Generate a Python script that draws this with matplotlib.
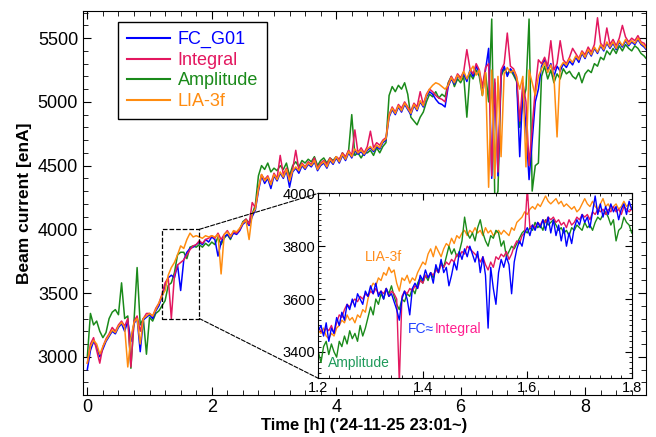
import numpy as np
import matplotlib.pyplot as plt
from matplotlib.patches import Rectangle, ConnectionPatch
from matplotlib.ticker import MultipleLocator

plt.rcParams['font.family'] = ['Liberation Sans', 'DejaVu Sans']

# main panel, one value every 0.05 h
time_h = np.round(np.arange(181) * 0.05, 2)

fc_g01 = [
    2900, 3050, 3120, 3080, 3000, 3060, 3120, 3160, 3200, 3180,
    3230, 3260, 3200, 3280, 3120, 3260, 3300, 3040, 3290, 3310,
    3330, 3300, 3360, 3400, 3470, 3560, 3620, 3640, 3620, 3720,
    3520, 3760, 3820, 3850, 3860, 3880, 3900, 3880, 3920, 3900,
    3940, 3920, 3790, 3900, 3940, 3960, 3930, 3970, 3960, 3990,
    4040, 4060, 4030, 4100, 4150, 4300, 4420, 4360, 4400, 4320,
    4420, 4380, 4440, 4400, 4460, 4330, 4450, 4480, 4440, 4500,
    4470, 4510, 4490, 4530, 4460, 4500, 4520, 4480, 4540, 4510,
    4560, 4520, 4580, 4540, 4600, 4560, 4620, 4590, 4610, 4580,
    4620, 4640, 4610, 4650, 4630, 4680, 4700, 4880, 4940, 4900,
    4960, 4920, 4980, 4940, 4900, 4970, 4930, 5000, 4960, 5040,
    5080, 5060, 5020, 4990, 4980, 4960, 5120, 5180, 5140, 5200,
    5180, 5220, 5160, 5250, 5200, 5280, 5230, 5100, 5250, 5420,
    4400, 5150, 4420, 5220, 5280, 5200, 5260, 5230, 5180, 4570,
    5100, 4800, 4390, 4700, 5000, 5100, 5280, 5330, 5250, 5300,
    5200, 5280, 5240, 5300, 5270, 5320, 5290, 5350, 5310, 5380,
    5340, 5400, 5360, 5420, 5380, 5440, 5400, 5460, 5420, 5460,
    5410, 5470, 5430, 5480, 5440, 5470, 5450, 5490, 5450, 5430,
    5400]

integral = [
    2950, 3100, 3150, 3050, 2950, 3080, 3140, 3180, 3230, 3200,
    3250, 3280, 3240, 3300, 2920, 3280, 3320, 3200, 3300, 3340,
    3340, 3320, 3380, 3420, 3490, 3580, 3620, 3300, 3640, 3720,
    3740, 3760, 3800, 3840, 3870, 3880, 3910, 3890, 3920, 3930,
    3950, 3930, 3970, 3920, 3960, 3990, 3950, 3980, 3970, 4000,
    4050, 4080, 4040, 4210, 4170, 4320, 4430, 4390, 4420, 4360,
    4440, 4400, 4580, 4430, 4480, 4400, 4470, 4620, 4470, 4520,
    4490, 4530, 4510, 4560, 4480, 4520, 4540, 4510, 4560, 4530,
    4570, 4550, 4600, 4570, 4620, 4580, 4780, 4600, 4640, 4600,
    4650, 4770, 4640, 4680, 4660, 4700, 4720, 4900, 4960, 4920,
    4980, 4950, 5000, 4960, 4930, 4990, 4960, 5080, 4980, 5060,
    5100, 5080, 5050, 5030, 5020, 5000, 5140, 5200, 5160, 5220,
    5190, 5240, 5410, 5260, 5220, 5300, 5250, 5120, 5270, 5300,
    4420, 5180, 4450, 5250, 5300, 5540, 5280, 5260, 5200, 4850,
    5150, 5000, 4500, 4800, 5100, 5330, 5300, 5350, 5280, 5480,
    5250, 5300, 5480, 5330, 5300, 5350, 5420, 5380, 5340, 5400,
    5370, 5430, 5390, 5450, 5660, 5460, 5430, 5580, 5450, 5490,
    5440, 5500, 5600, 5510, 5470, 5500, 5480, 5520, 5470, 5460,
    5420]

amplitude = [
    3000, 3340, 3250, 3280, 3200, 3150, 3190, 3300, 3350, 3370,
    3330, 3580, 3300, 3320, 2910, 3280, 3700, 3250, 3300, 3020,
    3310, 3280, 3340, 3360, 3400, 3440, 3560, 3580, 3660, 3800,
    3820, 3820, 3770, 3860, 3870, 3860, 3880, 3860, 3890, 3870,
    3900, 3880, 3940, 3880, 3930, 3960, 3920, 3980, 3970, 4000,
    4060, 4080, 4050, 4120, 4190, 4420, 4500, 4470, 4520, 4450,
    4480, 4460, 4500, 4470, 4520, 4420, 4500, 4530, 4490, 4540,
    4520, 4550, 4530, 4570, 4500, 4540, 4560, 4520, 4560, 4540,
    4570, 4540, 4600, 4560, 4620, 4900, 4580, 4600, 4560, 4600,
    4600, 4620, 4580, 4640, 4600, 4650, 4680, 5050, 5120, 5080,
    5130, 5100, 5150, 5060, 4880, 4850, 4820, 4880, 4920, 5000,
    5060, 5040, 5080, 5030, 5060, 5040, 5150, 5200, 5120, 5180,
    5150, 5200, 4880, 5220, 5180, 5250, 5200, 5050, 5230, 5000,
    5650, 4220, 4300, 5200, 5260, 5220, 5250, 5210, 5160, 4800,
    5000, 5100, 5650, 4300, 4500, 4520, 5200, 5280, 5180, 5250,
    5150, 5220, 5180, 5260, 5220, 5240, 5200, 5180, 5230, 5150,
    5220, 5250, 5230, 5300, 5280, 5350, 5330, 5400, 5370, 5420,
    5380, 5440, 5400, 5450, 5420, 5400, 5440, 5420, 5380, 5360,
    5330]

lia3f = [
    2950, 3080, 3130, 3100, 3020, 3080, 3130, 3170, 3210, 3190,
    3240, 3270, 3230, 2920, 3150, 3270, 3300, 3100, 3300, 3320,
    3340, 3320, 3370, 3420, 3480, 3520, 3640, 3700, 3740, 3800,
    3870, 3850, 3920, 3970, 3940, 3950, 3940, 3930, 3950, 3940,
    3950, 3940, 3960, 3650, 3960, 3980, 3940, 3990, 3980, 4010,
    4050, 4070, 3920, 4120, 4160, 4320, 4430, 4380, 4410, 4350,
    4430, 4390, 4450, 4410, 4470, 4380, 4460, 4490, 4460, 4510,
    4480, 4520, 4500, 4540, 4470, 4510, 4530, 4490, 4550, 4520,
    4570, 4530, 4590, 4550, 4610, 4570, 4630, 4600, 4620, 4590,
    4630, 4650, 4620, 4660, 4640, 4690, 4710, 4890, 4950, 4910,
    4970, 4930, 4990, 4950, 4910, 4980, 4940, 5010, 4970, 5050,
    5100, 5130, 5150, 5140, 5120, 5100, 5130, 5190, 5150, 5210,
    5170, 5240, 5180, 5240, 5280, 5210, 5250, 5050, 5230, 4330,
    5250, 4400, 5200, 4570, 5220, 5270, 5230, 5250, 5190, 5100,
    5200, 4490, 5250, 5150, 5050, 5200, 5260, 5310, 5230, 5290,
    5200, 4725, 5270, 5310, 5290, 5340, 5310, 5360, 5330, 5390,
    5350, 5410, 5370, 5430, 5390, 5450, 5410, 5470, 5430, 5470,
    5420, 5480, 5440, 5490, 5450, 5480, 5460, 5500, 5460, 5440,
    5410]

# zoomed panel 1.2 - 1.8 h, one value every 0.005 h
zoom_t = np.round(1.2 + np.arange(121) * 0.005, 3)

zoom_fc = [
    3480, 3500, 3460, 3510, 3440, 3490, 3470, 3530, 3500, 3550,
    3520, 3580, 3560, 3600, 3570, 3620, 3600, 3580, 3630, 3610,
    3650, 3620, 3660, 3610, 3630, 3600, 3640, 3610, 3620, 3590,
    3560, 3520, 3600, 3630, 3600, 3540, 3640, 3660, 3640, 3690,
    3670, 3710, 3680, 3700, 3660, 3730, 3700, 3750, 3700, 3720,
    3650, 3690, 3740, 3710, 3780, 3750, 3790, 3760, 3800, 3770,
    3740, 3780, 3700, 3760, 3690, 3490, 3720, 3640, 3580, 3700,
    3750, 3720, 3760, 3730, 3620, 3740, 3790, 3820, 3800, 3850,
    3870, 3840, 3880, 3860, 3890, 3870, 3900, 3860, 3910, 3850,
    3900, 3840, 3880, 3820, 3870, 3800, 3850, 3810, 3870, 3900,
    3880, 3920, 3890, 3910, 3870, 3930, 3990, 3920, 3960, 3910,
    3950, 3920, 3960, 3930, 3950, 3900, 3940, 3960, 3920, 3970,
    3940]

zoom_integral = [
    3490, 3480, 3470, 3490, 3480, 3500, 3470, 3510, 3540, 3530,
    3560, 3580, 3570, 3590, 3600, 3590, 3610, 3600, 3620, 3610,
    3630, 3620, 3640, 3620, 3630, 3620, 3640, 3610, 3630, 3620,
    3600, 3280, 3610, 3630, 3620, 3640, 3630, 3650, 3640, 3670,
    3660, 3690, 3680, 3700, 3690, 3710, 3700, 3730, 3720, 3740,
    3730, 3750, 3740, 3770, 3760, 3780, 3770, 3800, 3790, 3780,
    3770, 3760, 3740, 3760, 3730, 3710, 3740, 3720, 3760, 3750,
    3770, 3760, 3780, 3750, 3770, 3800, 3820, 3810, 3840, 3850,
    4020, 3870, 3880, 3870, 3890, 3880, 3900, 3890, 3910, 3900,
    3910, 3890, 3900, 3880, 3890, 3870, 3900, 3880, 3890, 3910,
    3900, 3920, 3910, 3920, 3900, 3930, 3920, 3940, 3930, 3940,
    3920, 3940, 3930, 3950, 3930, 3940, 3920, 3950, 3940, 3930,
    3940]

zoom_amplitude = [
    3400, 3360, 3420, 3440, 3390, 3430, 3400, 3380, 3440, 3420,
    3460, 3430, 3480, 3450, 3470, 3440, 3500, 3460, 3490, 3530,
    3570, 3540, 3600, 3580, 3620, 3600, 3640, 3620, 3650, 3610,
    3580, 3560, 3600, 3590, 3620, 3610, 3640, 3620, 3660, 3680,
    3660, 3690, 3670, 3700, 3680, 3720, 3700, 3740, 3720, 3760,
    3800, 3770, 3790, 3760, 3780, 3820, 3910, 3850, 3830, 3850,
    3820, 3870, 3900, 3850, 3820, 3800, 3840, 3830, 3860, 3850,
    3800, 3820, 3760, 3780, 3800, 3790, 3810, 3830, 3850, 3860,
    3850, 3870, 3860, 3890, 3870, 3880, 3860, 3900, 3880, 3890,
    3900, 3880, 3860, 3870, 3850, 3860, 3840, 3870, 3860, 3880,
    3870, 3860, 3890, 3870, 3880, 3860, 3890, 3910, 3900, 3920,
    3930, 3910, 3880, 3900, 3820, 3860, 3870, 3910, 3890, 3880,
    3850]

zoom_lia3f = [
    3480, 3470, 3490, 3460, 3450, 3470, 3460, 3490, 3500, 3520,
    3510, 3540, 3520, 3530, 3510, 3540, 3530, 3560, 3550, 3600,
    3640, 3660, 3650, 3680, 3670, 3700, 3690, 3720, 3700, 3710,
    3660, 3630, 3680, 3670, 3690, 3660, 3680, 3670, 3700, 3720,
    3740, 3730, 3770, 3790, 3760, 3800, 3780, 3760, 3790, 3810,
    3800, 3830, 3810, 3840, 3830, 3850, 3860, 3840, 3860, 3850,
    3870, 3850, 3860, 3840, 3870, 3850, 3860, 3840, 3850, 3860,
    3845, 3860, 3850, 3840, 3870, 3860, 3890, 3900, 3910, 3930,
    3920, 3940, 3950, 3940, 3960, 3950, 3970, 3990, 3970, 3960,
    3970, 3980, 3960, 3970, 3950, 3960, 3950, 3940, 3950, 3930,
    3940, 3960, 3980, 3960, 3950, 3970, 3950, 3940, 3960, 3980,
    3950, 3960, 3940, 3950, 3960, 3940, 3950, 3970, 3950, 3960,
    3940]

c_fc = "#0000ff"
c_int = "#e3175f"
c_amp = "#1a8a1a"
c_lia = "#ff8c10"

fig = plt.figure(figsize=(6.56, 4.37), dpi=100)
ax = fig.add_axes([0.1265, 0.0961, 0.8583, 0.8787])

ax.plot(time_h, fc_g01, color=c_fc, lw=1.1, label="FC_G01", zorder=3)
ax.plot(time_h, integral, color=c_int, lw=1.1, label="Integral", zorder=4)
ax.plot(time_h, amplitude, color=c_amp, lw=1.1, label="Amplitude", zorder=2)
ax.plot(time_h, lia3f, color=c_lia, lw=1.1, label="LIA-3f", zorder=5)

ax.set_xlim(-0.07, 8.98)
ax.set_ylim(2700, 5713)
ax.xaxis.set_major_locator(MultipleLocator(2))
ax.xaxis.set_minor_locator(MultipleLocator(0.25))
ax.yaxis.set_major_locator(MultipleLocator(500))
ax.yaxis.set_minor_locator(MultipleLocator(100))
ax.tick_params(which="both", direction="in", top=True, right=True, labelsize=13)
ax.tick_params(which="major", length=6)
ax.tick_params(which="minor", length=3.5)
ax.tick_params(axis="x", pad=3)
ax.set_xlabel("Time [h] ('24-11-25 23:01~)", fontsize=12, fontweight="bold",
              labelpad=1)
ax.set_ylabel("Beam current [enA]", fontsize=12.5, fontweight="bold")

leg = ax.legend(loc="upper left", bbox_to_anchor=(118 / 656, 1 - 22 / 437),
                bbox_transform=fig.transFigure, borderaxespad=0, fontsize=13,
                labelcolor="linecolor", handlelength=2.4, handletextpad=0.4,
                labelspacing=0.2, borderpad=0.5, fancybox=False, framealpha=1)
leg.get_frame().set_edgecolor("black")
leg.get_frame().set_linewidth(1.0)
for h in leg.get_lines():
    h.set_linewidth(1.5)

# zoom box and inset
ax.add_patch(Rectangle((1.2, 3300), 0.6, 700, fill=False, ls="--", lw=0.9,
                       ec="black", zorder=6))

axin = fig.add_axes([0.4853, 0.1343, 0.4777, 0.4233])
axin.plot(zoom_t, zoom_lia3f, color=c_lia, lw=1.0)
axin.plot(zoom_t, zoom_amplitude, color=c_amp, lw=1.0)
axin.plot(zoom_t, zoom_integral, color=c_int, lw=1.0)
axin.plot(zoom_t, zoom_fc, color=c_fc, lw=1.0)
axin.set_xlim(1.2, 1.8)
axin.set_ylim(3300, 4000)
axin.xaxis.set_major_locator(MultipleLocator(0.2))
axin.xaxis.set_minor_locator(MultipleLocator(0.02))
axin.yaxis.set_major_locator(MultipleLocator(200))
axin.yaxis.set_minor_locator(MultipleLocator(20))
axin.tick_params(which="both", direction="in", top=True, right=True,
                 labelsize=10.5, pad=2)
axin.tick_params(which="major", length=5)
axin.tick_params(which="minor", length=2.5)

axin.text(1.29, 3758, "LIA-3f", color="#ff8c1a", fontsize=10, va="center")
t1 = axin.text(1.372, 3485, "FC\u2248", color="#2040ff", fontsize=10, va="center")
axin.annotate("Integral", xy=(1, 0.5), xycoords=t1, va="center", ha="left",
              color="#ff2090", fontsize=10)
axin.text(1.219, 3357, "Amplitude", color="#1f9a5a", fontsize=10, va="center")

for ya, yb in [((1.8, 4000), (0, 1)), ((1.8, 3300), (0, 0))]:
    con = ConnectionPatch(xyA=ya, coordsA=ax.transData, xyB=yb,
                          coordsB=axin.transAxes, ls="--", lw=0.8, color="black")
    fig.add_artist(con)

fig.savefig("out.png", dpi=100)
